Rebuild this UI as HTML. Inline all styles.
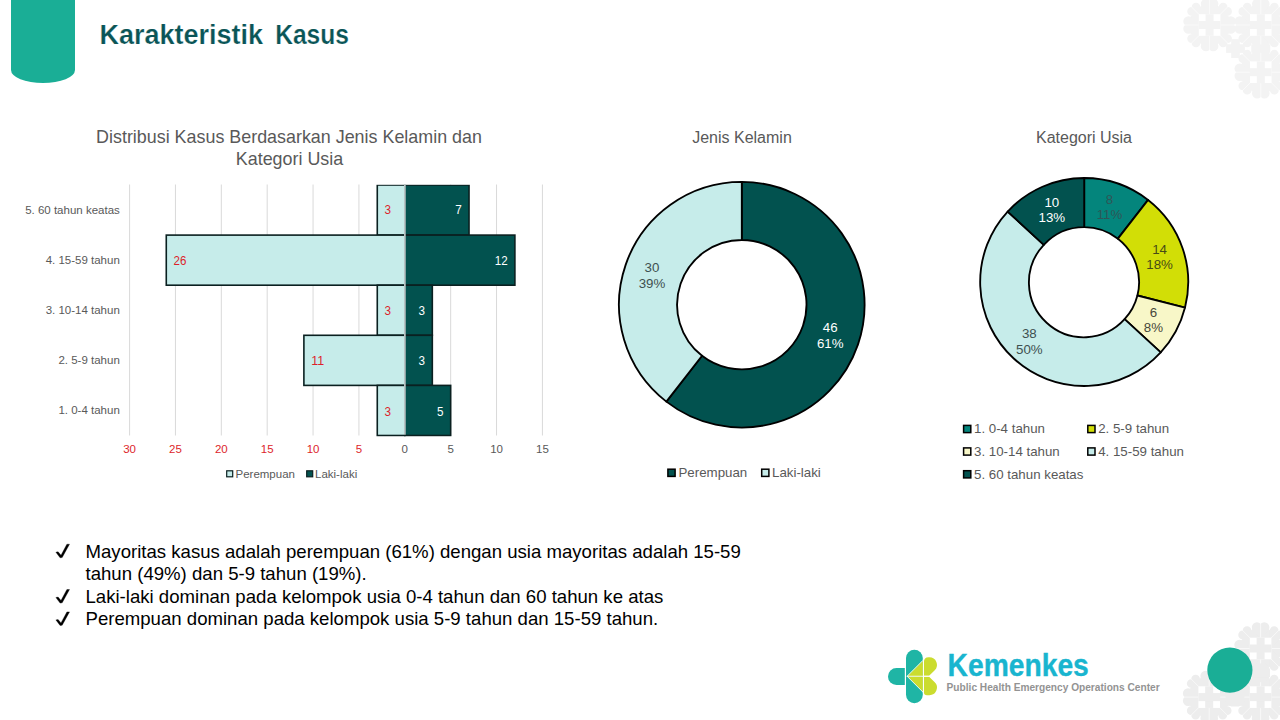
<!DOCTYPE html>
<html><head><meta charset="utf-8"><title>Karakteristik Kasus</title>
<style>
html,body{margin:0;padding:0;background:#fff;}
body{width:1280px;height:720px;overflow:hidden;position:relative;font-family:"Liberation Sans",sans-serif;}
svg{position:absolute;left:0;top:0;}
text{font-family:"Liberation Sans",sans-serif;}
</style></head><body>
<svg width="1280" height="720" viewBox="0 0 1280 720">
<defs>
<g id="heart"><path d="M0,0.6 L-7.3,-6.7 A5.16,5.16 0 0 1 0,-14 A5.16,5.16 0 0 1 7.3,-6.7 Z"/></g>
<g id="heart2"><path d="M0,0.6 L-6.2,-5.6 A4.38,4.38 0 0 1 0,-11.8 A4.38,4.38 0 0 1 6.2,-5.6 Z"/></g>
<g id="motif">
 <polygon points="19.50,8.08 8.08,19.50 -8.08,19.50 -19.50,8.08 -19.50,-8.08 -8.08,-19.50 8.08,-19.50 19.50,-8.08"/>
 <g transform="translate(0,-10.8)"><use href="#heart"/></g>
 <g transform="rotate(90) translate(0,-10.8)"><use href="#heart"/></g>
 <g transform="rotate(180) translate(0,-10.8)"><use href="#heart"/></g>
 <g transform="rotate(270) translate(0,-10.8)"><use href="#heart"/></g>
 <g transform="rotate(45) translate(0,-13.6)"><use href="#heart2"/></g>
 <g transform="rotate(135) translate(0,-13.6)"><use href="#heart2"/></g>
 <g transform="rotate(225) translate(0,-13.6)"><use href="#heart2"/></g>
 <g transform="rotate(315) translate(0,-13.6)"><use href="#heart2"/></g>
 <g stroke="#fff" stroke-width="0.6">
  <line x1="0" y1="-11" x2="0" y2="-27"/><line x1="0" y1="11" x2="0" y2="27"/><line x1="-11" y1="0" x2="-27" y2="0"/><line x1="11" y1="0" x2="27" y2="0"/>
  <line x1="10.5" y1="-10.5" x2="20" y2="-20"/><line x1="-10.5" y1="-10.5" x2="-20" y2="-20"/><line x1="10.5" y1="10.5" x2="20" y2="20"/><line x1="-10.5" y1="10.5" x2="-20" y2="20"/>
 </g>
 <rect x="-10.8" y="-10.8" width="21.6" height="21.6" fill="#fff"/>
 <rect x="-4" y="-10.8" width="8" height="21.6"/><rect x="-10.8" y="-4" width="21.6" height="8"/>
</g>
<g id="plus"><rect x="-4.3" y="-9.4" width="8.6" height="18.8"/><rect x="-9.4" y="-4.3" width="18.8" height="8.6"/></g>
</defs>

<g fill="#f3f3f3">
<use href="#motif" x="1209.6" y="25"/>
<use href="#motif" x="1260.8" y="25"/>
<use href="#motif" x="1260.8" y="72.2"/>
<use href="#plus" x="1235.5" y="48.6"/><rect x="1251.3" y="44.4" width="19" height="8.4"/>
</g><g fill="#ededed">
<use href="#motif" x="1209.2" y="697.1"/>
<use href="#motif" x="1260.6" y="697.1"/>
<use href="#motif" x="1260.6" y="648.5"/>
<use href="#plus" x="1235" y="697.1"/><use href="#plus" x="1260.6" y="672.8"/>
</g>
<path d="M11,0 H75 V70 A32,13 0 0 1 11,70 Z" fill="#1aae96"/>
<g font-size="27" font-weight="bold" fill="#0a5557" stroke="#fff" stroke-width="0.22"><text x="99.5" y="43.7" textLength="163.5" lengthAdjust="spacingAndGlyphs">Karakteristik</text><text x="275.2" y="43.7" textLength="73.8" lengthAdjust="spacingAndGlyphs">Kasus</text></g>
<circle cx="1229.9" cy="670.1" r="22.6" fill="#1aae96"/>
<text x="289" y="143.3" font-size="17.9" fill="#595959" text-anchor="middle">Distribusi Kasus Berdasarkan Jenis Kelamin dan</text>
<text x="289.5" y="165" font-size="17.9" fill="#595959" text-anchor="middle">Kategori Usia</text>
<line x1="129.58" y1="184.5" x2="129.58" y2="435.5" stroke="#d9d9d9" stroke-width="1"/>
<text x="129.58" y="453.4" font-size="11.5" fill="#dd1f2b" text-anchor="middle">30</text>
<line x1="175.45" y1="184.5" x2="175.45" y2="435.5" stroke="#d9d9d9" stroke-width="1"/>
<text x="175.45" y="453.4" font-size="11.5" fill="#dd1f2b" text-anchor="middle">25</text>
<line x1="221.32" y1="184.5" x2="221.32" y2="435.5" stroke="#d9d9d9" stroke-width="1"/>
<text x="221.32" y="453.4" font-size="11.5" fill="#dd1f2b" text-anchor="middle">20</text>
<line x1="267.19" y1="184.5" x2="267.19" y2="435.5" stroke="#d9d9d9" stroke-width="1"/>
<text x="267.19" y="453.4" font-size="11.5" fill="#dd1f2b" text-anchor="middle">15</text>
<line x1="313.06" y1="184.5" x2="313.06" y2="435.5" stroke="#d9d9d9" stroke-width="1"/>
<text x="313.06" y="453.4" font-size="11.5" fill="#dd1f2b" text-anchor="middle">10</text>
<line x1="358.93" y1="184.5" x2="358.93" y2="435.5" stroke="#d9d9d9" stroke-width="1"/>
<text x="358.93" y="453.4" font-size="11.5" fill="#dd1f2b" text-anchor="middle">5</text>
<line x1="404.80" y1="184.5" x2="404.80" y2="435.5" stroke="#d9d9d9" stroke-width="1"/>
<text x="404.80" y="453.4" font-size="11.5" fill="#595959" text-anchor="middle">0</text>
<line x1="450.67" y1="184.5" x2="450.67" y2="435.5" stroke="#d9d9d9" stroke-width="1"/>
<text x="450.67" y="453.4" font-size="11.5" fill="#595959" text-anchor="middle">5</text>
<line x1="496.54" y1="184.5" x2="496.54" y2="435.5" stroke="#d9d9d9" stroke-width="1"/>
<text x="496.54" y="453.4" font-size="11.5" fill="#595959" text-anchor="middle">10</text>
<line x1="542.41" y1="184.5" x2="542.41" y2="435.5" stroke="#d9d9d9" stroke-width="1"/>
<text x="542.41" y="453.4" font-size="11.5" fill="#595959" text-anchor="middle">15</text>
<clipPath id="pc"><rect x="0" y="184.75" width="600" height="252"/></clipPath><g clip-path="url(#pc)">
<text x="119.8" y="213.8" font-size="11.5" fill="#595959" text-anchor="end">5. 60 tahun keatas</text>
<rect x="377.28" y="185.00" width="27.52" height="50.1" fill="#c6ecea" stroke="#0a2020" stroke-width="1.6"/>
<rect x="404.80" y="185.00" width="64.22" height="50.1" fill="#02524f" stroke="#0a2020" stroke-width="1.6"/>
<text x="119.8" y="263.8" font-size="11.5" fill="#595959" text-anchor="end">4. 15-59 tahun</text>
<rect x="166.28" y="235.10" width="238.52" height="50.1" fill="#c6ecea" stroke="#0a2020" stroke-width="1.6"/>
<rect x="404.80" y="235.10" width="110.09" height="50.1" fill="#02524f" stroke="#0a2020" stroke-width="1.6"/>
<text x="119.8" y="313.9" font-size="11.5" fill="#595959" text-anchor="end">3. 10-14 tahun</text>
<rect x="377.28" y="285.20" width="27.52" height="50.1" fill="#c6ecea" stroke="#0a2020" stroke-width="1.6"/>
<rect x="404.80" y="285.20" width="27.52" height="50.1" fill="#02524f" stroke="#0a2020" stroke-width="1.6"/>
<text x="119.8" y="364.1" font-size="11.5" fill="#595959" text-anchor="end">2. 5-9 tahun</text>
<rect x="303.89" y="335.30" width="100.91" height="50.1" fill="#c6ecea" stroke="#0a2020" stroke-width="1.6"/>
<rect x="404.80" y="335.30" width="27.52" height="50.1" fill="#02524f" stroke="#0a2020" stroke-width="1.6"/>
<text x="119.8" y="414.1" font-size="11.5" fill="#595959" text-anchor="end">1. 0-4 tahun</text>
<rect x="377.28" y="385.40" width="27.52" height="50.1" fill="#c6ecea" stroke="#0a2020" stroke-width="1.6"/>
<rect x="404.80" y="385.40" width="45.87" height="50.1" fill="#02524f" stroke="#0a2020" stroke-width="1.6"/>
</g>
<text x="384.58" y="214.0" font-size="12.7" fill="#dd1f2b" textLength="6.5" lengthAdjust="spacingAndGlyphs">3</text>
<text x="455.27" y="214.0" font-size="12.7" fill="#fff" textLength="6.5" lengthAdjust="spacingAndGlyphs">7</text>
<text x="173.58" y="264.9" font-size="12.7" fill="#dd1f2b" textLength="12.9" lengthAdjust="spacingAndGlyphs">26</text>
<text x="494.69" y="264.9" font-size="12.7" fill="#fff" textLength="12.9" lengthAdjust="spacingAndGlyphs">12</text>
<text x="384.58" y="315.2" font-size="12.7" fill="#dd1f2b" textLength="6.5" lengthAdjust="spacingAndGlyphs">3</text>
<text x="418.57" y="315.2" font-size="12.7" fill="#fff" textLength="6.5" lengthAdjust="spacingAndGlyphs">3</text>
<text x="311.19" y="365.4" font-size="12.7" fill="#dd1f2b" textLength="12.9" lengthAdjust="spacingAndGlyphs">11</text>
<text x="418.57" y="365.4" font-size="12.7" fill="#fff" textLength="6.5" lengthAdjust="spacingAndGlyphs">3</text>
<text x="384.58" y="415.6" font-size="12.7" fill="#dd1f2b" textLength="6.5" lengthAdjust="spacingAndGlyphs">3</text>
<text x="436.92" y="415.6" font-size="12.7" fill="#fff" textLength="6.5" lengthAdjust="spacingAndGlyphs">5</text>
<line x1="404.90000000000003" y1="184.5" x2="404.90000000000003" y2="434.7" stroke="#e3eeee" stroke-width="1.4"/>
<rect x="226.7" y="470.8" width="6" height="6" fill="#c6ecea" stroke="#0a2020" stroke-width="1.2"/>
<text x="235.5" y="478" font-size="11.5" fill="#595959">Perempuan</text>
<rect x="306.7" y="470.8" width="6" height="6" fill="#02524f" stroke="#0a2020" stroke-width="1.2"/>
<text x="315" y="478" font-size="11.5" fill="#595959">Laki-laki</text>
<text x="742" y="143" font-size="16" fill="#595959" text-anchor="middle">Jenis Kelamin</text>
<path d="M741.80,181.90 A122.8,122.8 0 1 1 666.37,401.61 L702.06,355.76 A64.7,64.7 0 1 0 741.80,240.00 Z" fill="#02524f" stroke="#000" stroke-width="1.85" stroke-linejoin="round"/>
<path d="M666.37,401.61 A122.8,122.8 0 0 1 741.80,181.90 L741.80,240.00 A64.7,64.7 0 0 0 702.06,355.76 Z" fill="#c6ecea" stroke="#000" stroke-width="1.85" stroke-linejoin="round"/>
<text x="652" y="271.8" font-size="13.3" fill="#3e5050" text-anchor="middle">30</text>
<text x="652" y="287.5" font-size="13.3" fill="#3e5050" text-anchor="middle">39%</text>
<text x="830.2" y="332.4" font-size="13.3" fill="#ffffff" text-anchor="middle">46</text>
<text x="830.2" y="348.09999999999997" font-size="13.3" fill="#ffffff" text-anchor="middle">61%</text>
<rect x="667.9" y="469.2" width="7.2" height="7.2" fill="#02524f" stroke="#000" stroke-width="1.5"/>
<text x="678.5" y="477.3" font-size="13.3" fill="#595959">Perempuan</text>
<rect x="761.7" y="469.2" width="7.2" height="7.2" fill="#c6ecea" stroke="#000" stroke-width="1.5"/>
<text x="772" y="477.3" font-size="13.3" fill="#595959">Laki-laki</text>
<text x="1084" y="143" font-size="16" fill="#595959" text-anchor="middle">Kategori Usia</text>
<path d="M1084.20,178.00 A104,104 0 0 1 1148.08,199.93 L1117.92,238.68 A54.9,54.9 0 0 0 1084.20,227.10 Z" fill="#04857c" stroke="#000" stroke-width="1.85" stroke-linejoin="round"/>
<path d="M1148.08,199.93 A104,104 0 0 1 1185.02,307.53 L1137.42,295.48 A54.9,54.9 0 0 0 1117.92,238.68 Z" fill="#d2de06" stroke="#000" stroke-width="1.85" stroke-linejoin="round"/>
<path d="M1185.02,307.53 A104,104 0 0 1 1160.72,352.44 L1124.59,319.18 A54.9,54.9 0 0 0 1137.42,295.48 Z" fill="#f8f7c8" stroke="#000" stroke-width="1.85" stroke-linejoin="round"/>
<path d="M1160.72,352.44 A104,104 0 1 1 1007.68,211.56 L1043.81,244.82 A54.9,54.9 0 1 0 1124.59,319.18 Z" fill="#c6ecea" stroke="#000" stroke-width="1.85" stroke-linejoin="round"/>
<path d="M1007.68,211.56 A104,104 0 0 1 1084.20,178.00 L1084.20,227.10 A54.9,54.9 0 0 0 1043.81,244.82 Z" fill="#02524f" stroke="#000" stroke-width="1.85" stroke-linejoin="round"/>
<text x="1109.5" y="203.5" font-size="13.3" fill="#2f5657" text-anchor="middle">8</text>
<text x="1109.5" y="219.0" font-size="13.3" fill="#2f5657" text-anchor="middle">11%</text>
<text x="1159.6" y="253.8" font-size="13.3" fill="#474a17" text-anchor="middle">14</text>
<text x="1159.6" y="269.3" font-size="13.3" fill="#474a17" text-anchor="middle">18%</text>
<text x="1153.4" y="316.9" font-size="13.3" fill="#47483a" text-anchor="middle">6</text>
<text x="1153.4" y="332.4" font-size="13.3" fill="#47483a" text-anchor="middle">8%</text>
<text x="1029.3" y="338.4" font-size="13.3" fill="#3e5050" text-anchor="middle">38</text>
<text x="1029.3" y="353.9" font-size="13.3" fill="#3e5050" text-anchor="middle">50%</text>
<text x="1051.8" y="206.9" font-size="13.3" fill="#ffffff" text-anchor="middle">10</text>
<text x="1051.8" y="222.4" font-size="13.3" fill="#ffffff" text-anchor="middle">13%</text>
<rect x="963.6" y="425.40000000000003" width="7.2" height="7.2" fill="#04857c" stroke="#000" stroke-width="1.5"/>
<text x="974.0" y="433.40000000000003" font-size="13.3" fill="#595959">1. 0-4 tahun</text>
<rect x="1087.8" y="425.40000000000003" width="7.2" height="7.2" fill="#d2de06" stroke="#000" stroke-width="1.5"/>
<text x="1098.2" y="433.40000000000003" font-size="13.3" fill="#595959">2. 5-9 tahun</text>
<rect x="963.6" y="447.90000000000003" width="7.2" height="7.2" fill="#f8f7c8" stroke="#000" stroke-width="1.5"/>
<text x="974.0" y="455.90000000000003" font-size="13.3" fill="#595959">3. 10-14 tahun</text>
<rect x="1087.8" y="447.90000000000003" width="7.2" height="7.2" fill="#c6ecea" stroke="#000" stroke-width="1.5"/>
<text x="1098.2" y="455.90000000000003" font-size="13.3" fill="#595959">4. 15-59 tahun</text>
<rect x="963.6" y="470.7" width="7.2" height="7.2" fill="#02524f" stroke="#000" stroke-width="1.5"/>
<text x="974.0" y="478.7" font-size="13.3" fill="#595959">5. 60 tahun keatas</text>
<polygon points="55.9,552.2 58.1,551.8 61.0,555.2 66.9,544.2 69.5,544.2 62.2,557.5 60.1,557.8" fill="#000" stroke="#000" stroke-width="0.35" stroke-linejoin="round"/>
<text x="85.5" y="557.5" font-size="18.6" fill="#000">Mayoritas kasus adalah perempuan (61%) dengan usia mayoritas adalah 15-59</text>
<text x="85.5" y="580.3" font-size="18.6" fill="#000">tahun (49%) dan 5-9 tahun (19%).</text>
<polygon points="55.9,597.5 58.1,597.1 61.0,600.5 66.9,589.5 69.5,589.5 62.2,602.8 60.1,603.1" fill="#000" stroke="#000" stroke-width="0.35" stroke-linejoin="round"/>
<text x="85.5" y="602.8" font-size="18.6" fill="#000">Laki-laki dominan pada kelompok usia 0-4 tahun dan 60 tahun ke atas</text>
<polygon points="55.9,619.9 58.1,619.5 61.0,622.9 66.9,611.9 69.5,611.9 62.2,625.2 60.1,625.5" fill="#000" stroke="#000" stroke-width="0.35" stroke-linejoin="round"/>
<text x="85.5" y="625.2" font-size="18.6" fill="#000">Perempuan dominan pada kelompok usia 5-9 tahun dan 15-59 tahun.</text>
<g id="logo">
<path d="M904.8,667.9 H896.5 A8.5,8.5 0 0 0 896.5,684.9 H904.8 Z" fill="#1fb5a5"/>
<path d="M906,658.1 A8.4,8.4 0 0 1 922.8,658.1 V694.8 A8.4,8.4 0 0 1 906,694.8 Z" fill="#1fb5a5"/>
<path d="M907.3,676.25 L922.9,660.65 V676.25 Z" fill="#cbdc2f"/><path d="M907.3,676.25 L922.9,691.85 V676.25 Z" fill="#cbdc2f"/>
<path d="M923.9,675.8 V662.2 Q923.9,657.25 928.6,657.25 L929.4,657.25 A7.55,7.55 0 0 1 934.74,670.14 L929.1,675.8 Z" fill="#cbdc2f"/><path d="M923.9,676.7 V692.2 Q923.9,695.25 927,695.25 L929.4,695.25 A7.55,7.55 0 0 0 934.74,682.36 L929.1,676.7 Z" fill="#cbdc2f"/>
<path d="M923,660.35 L907.1,676.25 L923,692.15" fill="none" stroke="#fff" stroke-width="0.9"/>
<line x1="923.4" y1="659" x2="923.4" y2="693.5" stroke="#fff" stroke-width="1"/>
<line x1="906.8" y1="676.25" x2="930" y2="676.25" stroke="#fff" stroke-width="0.9"/>
</g>
<text x="947.6" y="676.3" font-size="30.5" font-weight="bold" fill="#19b5cf" stroke="#19b5cf" stroke-width="0.35" stroke-linejoin="round" textLength="141.2" lengthAdjust="spacingAndGlyphs">Kemenkes</text>
<text x="946.6" y="691.3" font-size="10.2" font-weight="bold" fill="#939393" textLength="213" lengthAdjust="spacingAndGlyphs">Public Health Emergency Operations Center</text>
</svg></body></html>
